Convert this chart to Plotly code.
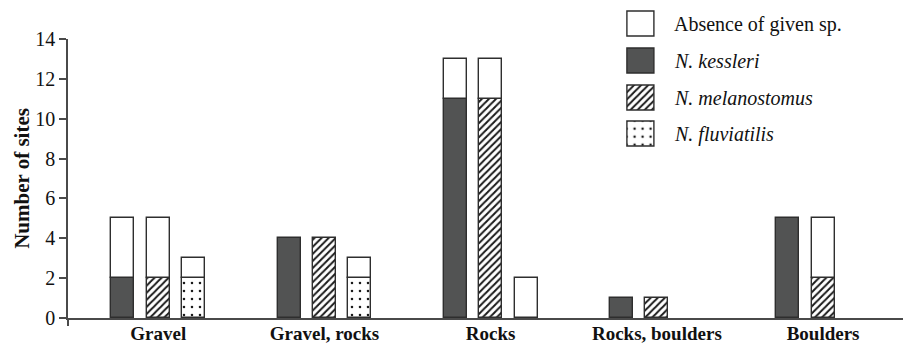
import plotly.graph_objects as go

# Habitat types along the x axis
habitats = ["Gravel", "Gravel, rocks", "Rocks", "Rocks, boulders", "Boulders"]

# Number of sites where each species was found / absent, per habitat
kessleri_present = [2, 4, 11, 1, 5]
kessleri_absent = [3, 0, 2, 0, 0]
melanostomus_present = [2, 4, 11, 1, 2]
melanostomus_absent = [3, 0, 2, 0, 3]
fluviatilis_present = [2, 2, 0, 0, 0]
fluviatilis_absent = [1, 1, 2, 0, 0]

y_ticks = [0, 2, 4, 6, 8, 10, 12, 14]

legend_labels = ["Absence of given sp.", "<i>N. kessleri</i>",
                 "<i>N. melanostomus</i>", "<i>N. fluviatilis</i>"]

FONT = "Liberation Serif"
DARK = "#525353"
EDGE = "#2e2e2e"
AXIS = "#4a4a4a"
INK = "#111111"

SLOT = 0.213     # distance between neighbouring bars of one habitat
BAR_W = 0.138    # bar width in category units
X_RANGE = [-0.543, 4.481]

styles = {
    "kessleri": dict(color=DARK),
    "melanostomus": dict(color="white",
                         pattern=dict(shape="/", fgcolor="#1a1a1a", bgcolor="white",
                                      fgopacity=1, size=5, solidity=0.4,
                                      fillmode="overlay")),
    "fluviatilis": dict(color="white",
                        pattern=dict(shape=".", fgcolor="#1a1a1a", bgcolor="white",
                                     fgopacity=1, size=8, solidity=0.08,
                                     fillmode="overlay")),
}
absent_style = dict(color="white")

species = [
    ("kessleri", kessleri_present, kessleri_absent),
    ("melanostomus", melanostomus_present, melanostomus_absent),
    ("fluviatilis", fluviatilis_present, fluviatilis_absent),
]

fig = go.Figure()

for slot, (name, present, absent) in enumerate(species):
    xs = [i + (slot - 1) * SLOT for i in range(len(habitats))]
    pres = [v if v > 0 else None for v in present]
    absn = [v if v > 0 else None for v in absent]
    fig.add_trace(go.Bar(
        x=xs, y=pres, base=[0] * len(xs), width=BAR_W,
        marker=dict(**styles[name], line=dict(color=EDGE, width=1.4)),
        showlegend=False, hoverinfo="skip",
    ))
    fig.add_trace(go.Bar(
        x=xs, y=absn, base=present, width=BAR_W,
        marker=dict(**absent_style, line=dict(color=EDGE, width=1.4)),
        showlegend=False, hoverinfo="skip",
    ))

H, W = 344, 904
t_m, b_m, l_m, r_m = 4, 26, 68, 1
plot_h = H - t_m - b_m
plot_w = W - l_m - r_m
y_top = (H - b_m - 39) / plot_h

# Legend drawn as its own small subplot so the swatches can carry patterns
legend_styles = [absent_style, styles["kessleri"], styles["melanostomus"], styles["fluviatilis"]]
n_leg = len(legend_labels)
LEG_X0, LEG_W = 628, 27
LEG_TOP, LEG_STEP, LEG_BOX = 12, 36.6, 25
PAD = 0.2   # padding around the swatches inside the legend axes (axis units)
for i, (label, st) in enumerate(zip(legend_labels, legend_styles)):
    fig.add_trace(go.Bar(
        x=[0.5], y=[LEG_BOX / LEG_STEP], base=[n_leg - 1 - i], width=1,
        marker=dict(**st, line=dict(color=EDGE, width=1.4)),
        xaxis="x2", yaxis="y2", showlegend=False, hoverinfo="skip",
        cliponaxis=False,
    ))
    y_px = LEG_TOP + LEG_BOX / 2 + i * LEG_STEP
    fig.add_annotation(
        x=(672 - l_m) / plot_w, y=(H - b_m - y_px) / plot_h,
        xref="paper", yref="paper",
        text=label, showarrow=False, xanchor="left", yanchor="middle",
        font=dict(family=FONT, size=20, color=INK),
    )

leg_bottom = LEG_TOP + (n_leg - 1) * LEG_STEP + LEG_BOX
x2_lo = LEG_X0 - PAD * LEG_W
x2_hi = LEG_X0 + LEG_W + PAD * LEG_W
y2_top = LEG_TOP - PAD * LEG_STEP
y2_bot = leg_bottom + PAD * LEG_STEP

fig.update_layout(
    width=W, height=H,
    margin=dict(l=l_m, r=r_m, t=t_m, b=b_m, autoexpand=False),
    paper_bgcolor="white", plot_bgcolor="white",
    barmode="overlay", bargap=0,
    font=dict(family=FONT, color=INK),
    xaxis=dict(
        range=X_RANGE, tickmode="array",
        tickvals=list(range(len(habitats))),
        ticktext=[f"<b>{h}</b>" for h in habitats],
        ticks="", showline=True, linecolor=AXIS, linewidth=1.5,
        showgrid=False, zeroline=False, automargin=False,
        ticklabelstandoff=-3,
        tickfont=dict(family=FONT, size=19, color=INK),
        minor=dict(tickmode="array", tickvals=[X_RANGE[0]], ticks="outside",
                   ticklen=6, tickwidth=1.5, tickcolor=AXIS),
    ),
    yaxis=dict(
        domain=[0, y_top], range=[0, 14], tickmode="array", tickvals=y_ticks,
        ticks="outside", ticklen=7, tickwidth=1.5, tickcolor=AXIS,
        showline=True, linecolor=AXIS, linewidth=1.5,
        showgrid=False, zeroline=False, automargin=False,
        tickfont=dict(family=FONT, size=20, color=INK),
        title=dict(text="<b>Number of sites</b>", standoff=0,
                   font=dict(family=FONT, size=21, color=INK)),
    ),
    xaxis2=dict(domain=[(x2_lo - l_m) / plot_w, (x2_hi - l_m) / plot_w],
                range=[-PAD, 1 + PAD], visible=False, fixedrange=True),
    yaxis2=dict(domain=[(H - b_m - y2_bot) / plot_h, (H - b_m - y2_top) / plot_h],
                range=[-PAD, (n_leg - 1) + LEG_BOX / LEG_STEP + PAD],
                visible=False, fixedrange=True),
)

fig.write_html("out.html")
